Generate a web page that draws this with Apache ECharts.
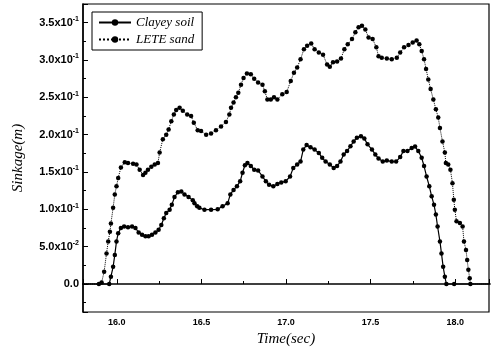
<!DOCTYPE html>
<html>
<head>
<meta charset="utf-8">
<script src="https://cdn.jsdelivr.net/npm/echarts@6/dist/echarts.min.js"></script>
<style>
html,body{margin:0;padding:0;background:#fff;}
#chart{width:494px;height:355px;}
</style>
</head>
<body>
<div id="chart"></div>
<script>
// ---- Data ----
var seriesNames = ['Clayey soil', 'LETE sand'];

var clayTime = [15.7, 15.955, 15.965, 15.978, 15.988, 15.998, 16.008, 16.024, 16.043, 16.066, 16.090, 16.110, 16.129, 16.149, 16.169, 16.188, 16.208, 16.228, 16.247, 16.263, 16.278, 16.292, 16.312, 16.325, 16.341, 16.361, 16.381, 16.400, 16.424, 16.449, 16.459, 16.475, 16.488, 16.518, 16.557, 16.596, 16.625, 16.655, 16.671, 16.690, 16.710, 16.729, 16.743, 16.757, 16.772, 16.792, 16.812, 16.835, 16.861, 16.881, 16.900, 16.925, 16.949, 16.972, 16.998, 17.024, 17.043, 17.066, 17.086, 17.102, 17.122, 17.145, 17.169, 17.194, 17.214, 17.234, 17.259, 17.282, 17.302, 17.322, 17.341, 17.361, 17.381, 17.400, 17.419, 17.443, 17.463, 17.482, 17.508, 17.528, 17.547, 17.572, 17.596, 17.625, 17.651, 17.675, 17.694, 17.718, 17.743, 17.763, 17.782, 17.802, 17.816, 17.831, 17.847, 17.861, 17.875, 17.886, 17.896, 17.910, 17.919, 17.929, 17.939, 17.948, 17.994, 18.3];
var clayValue = [0, 0, 0.0098, 0.023, 0.039, 0.057, 0.068, 0.075, 0.077, 0.076, 0.077, 0.075, 0.069, 0.066, 0.064, 0.064, 0.066, 0.069, 0.0726, 0.079, 0.088, 0.095, 0.0995, 0.106, 0.1165, 0.123, 0.124, 0.120, 0.1165, 0.112, 0.108, 0.104, 0.102, 0.0995, 0.0995, 0.100, 0.104, 0.108, 0.120, 0.126, 0.131, 0.1375, 0.149, 0.159, 0.162, 0.158, 0.153, 0.152, 0.144, 0.1375, 0.133, 0.131, 0.134, 0.136, 0.1375, 0.144, 0.1555, 0.160, 0.164, 0.180, 0.186, 0.183, 0.180, 0.1755, 0.169, 0.164, 0.160, 0.1555, 0.158, 0.164, 0.1735, 0.178, 0.1845, 0.191, 0.196, 0.198, 0.195, 0.187, 0.180, 0.1735, 0.168, 0.164, 0.1655, 0.164, 0.164, 0.170, 0.178, 0.178, 0.182, 0.184, 0.178, 0.169, 0.158, 0.144, 0.131, 0.1175, 0.106, 0.093, 0.077, 0.057, 0.041, 0.023, 0.0098, 0, 0, 0];

var leteTime = [15.7, 15.894, 15.910, 15.925, 15.939, 15.949, 15.959, 15.965, 15.978, 15.988, 15.998, 16.008, 16.024, 16.047, 16.066, 16.096, 16.116, 16.135, 16.155, 16.169, 16.184, 16.204, 16.224, 16.243, 16.253, 16.272, 16.292, 16.306, 16.322, 16.337, 16.351, 16.371, 16.390, 16.416, 16.439, 16.455, 16.478, 16.498, 16.528, 16.557, 16.586, 16.616, 16.645, 16.665, 16.675, 16.690, 16.704, 16.718, 16.734, 16.749, 16.769, 16.792, 16.812, 16.835, 16.861, 16.875, 16.890, 16.910, 16.929, 16.949, 16.978, 17.004, 17.028, 17.047, 17.066, 17.086, 17.106, 17.125, 17.149, 17.169, 17.194, 17.219, 17.243, 17.259, 17.278, 17.302, 17.325, 17.345, 17.365, 17.390, 17.410, 17.429, 17.449, 17.469, 17.488, 17.512, 17.534, 17.547, 17.566, 17.596, 17.625, 17.655, 17.675, 17.698, 17.724, 17.749, 17.772, 17.788, 17.802, 17.816, 17.828, 17.841, 17.855, 17.871, 17.886, 17.900, 17.910, 17.925, 17.939, 17.945, 17.959, 17.972, 17.984, 17.992, 17.998, 18.008, 18.028, 18.044, 18.052, 18.064, 18.071, 18.078, 18.086, 18.090, 18.3];
var leteValue = [0, 0, 0.002, 0.0165, 0.041, 0.057, 0.070, 0.081, 0.102, 0.120, 0.131, 0.142, 0.156, 0.163, 0.162, 0.161, 0.160, 0.153, 0.146, 0.149, 0.153, 0.157, 0.160, 0.162, 0.176, 0.194, 0.200, 0.207, 0.218, 0.227, 0.233, 0.236, 0.232, 0.227, 0.225, 0.216, 0.206, 0.205, 0.200, 0.2016, 0.206, 0.211, 0.217, 0.227, 0.236, 0.243, 0.250, 0.256, 0.267, 0.276, 0.282, 0.281, 0.275, 0.270, 0.267, 0.258, 0.247, 0.247, 0.250, 0.247, 0.254, 0.257, 0.272, 0.283, 0.290, 0.301, 0.3145, 0.319, 0.322, 0.3145, 0.310, 0.307, 0.294, 0.291, 0.297, 0.298, 0.302, 0.3145, 0.321, 0.328, 0.337, 0.344, 0.346, 0.341, 0.330, 0.328, 0.317, 0.305, 0.303, 0.302, 0.301, 0.303, 0.310, 0.317, 0.320, 0.3235, 0.326, 0.321, 0.312, 0.301, 0.288, 0.274, 0.261, 0.247, 0.234, 0.223, 0.209, 0.191, 0.176, 0.162, 0.160, 0.153, 0.135, 0.113, 0.0995, 0.084, 0.0816, 0.077, 0.057, 0.0457, 0.032, 0.019, 0.0077, 0, 0];

var xRange = [15.8, 18.2];
var yRange = [-0.0375, 0.375];

function pairs(t, v) { return t.map(function (x, i) { return [x, v[i]]; }); }

function yLabel(val) {
  var r = Math.round(val * 1000) / 1000;
  if (Math.abs(Math.round(r / 0.05) * 0.05 - r) > 1e-6) return '';
  if (Math.abs(r) < 1e-9) return '{a|0.0}';
  if (r < 0) return '';
  if (r < 0.1 - 1e-9) return '{a|' + (r * 100).toFixed(1) + 'x10}{s|-2}';
  return '{a|' + (r * 10).toFixed(1) + 'x10}{s|-1}';
}

var chart = echarts.init(document.getElementById('chart'), null, {renderer: 'canvas'});
chart.setOption({
  animation: false,
  backgroundColor: '#ffffff',
  grid: {left: 83, right: 5, top: 4, bottom: 43, show: true, borderColor: '#000', borderWidth: 1.2, backgroundColor: 'transparent'},
  legend: {
    left: 92, top: 12, orient: 'vertical',
    borderColor: '#000', borderWidth: 1, padding: [4, 8, 4, 6],
    itemWidth: 32, itemHeight: 8, itemGap: 4,
    textStyle: {fontFamily: 'Liberation Serif', fontStyle: 'italic', fontSize: 13, color: '#000'},
    data: seriesNames
  },
  xAxis: {
    type: 'value', min: xRange[0], max: xRange[1], splitNumber: 5,
    name: 'Time(sec)', nameLocation: 'middle', nameGap: 19,
    nameTextStyle: {fontFamily: 'Liberation Serif', fontStyle: 'italic', fontSize: 15, color: '#000'},
    axisLine: {show: true, lineStyle: {color: '#000', width: 1.5}},
    axisTick: {show: true, inside: true, length: 5, lineStyle: {color: '#000'}},
    minorTick: {show: true, splitNumber: 2, length: 3, lineStyle: {color: '#000'}},
    splitLine: {show: false},
    axisLabel: {
      margin: 6, color: '#000', fontFamily: 'Liberation Sans', fontWeight: 'bold', fontSize: 9,
      showMinLabel: false, showMaxLabel: false,
      formatter: function (v) { var r = Math.round(v * 100) / 100; return (Math.abs(Math.round(r * 2) / 2 - r) < 1e-6) ? r.toFixed(1) : ''; }
    }
  },
  yAxis: {
    type: 'value', min: yRange[0], max: yRange[1], splitNumber: 8,
    name: 'Sinkage(m)', nameLocation: 'middle', nameGap: 57,
    nameTextStyle: {fontFamily: 'Liberation Serif', fontStyle: 'italic', fontSize: 15, color: '#000'},
    axisLine: {show: true, lineStyle: {color: '#000', width: 1.5}},
    axisTick: {show: true, inside: true, length: 5, lineStyle: {color: '#000'}},
    minorTick: {show: true, splitNumber: 2, length: 3, lineStyle: {color: '#000'}},
    splitLine: {show: false},
    axisLabel: {
      margin: 4, color: '#000', showMinLabel: false, showMaxLabel: false,
      formatter: yLabel,
      rich: {
        a: {fontFamily: 'Liberation Sans', fontWeight: 'bold', fontSize: 11, color: '#000'},
        s: {fontFamily: 'Liberation Sans', fontWeight: 'bold', fontSize: 7, color: '#000', padding: [0, 0, 7, 0]}
      }
    }
  },
  series: [
    {
      name: seriesNames[0], type: 'line', data: pairs(clayTime, clayValue),
      symbol: 'circle', symbolSize: 4.5, showAllSymbol: true, clip: true,
      itemStyle: {color: '#000'}, lineStyle: {color: '#000', width: 1.2, type: 'solid'}
    },
    {
      name: seriesNames[1], type: 'line', data: pairs(leteTime, leteValue),
      symbol: 'circle', symbolSize: 4.5, showAllSymbol: true, clip: true,
      itemStyle: {color: '#000'}, lineStyle: {color: '#000', width: 1, type: 'dotted'}
    }
  ]
});
</script>
</body>
</html>
